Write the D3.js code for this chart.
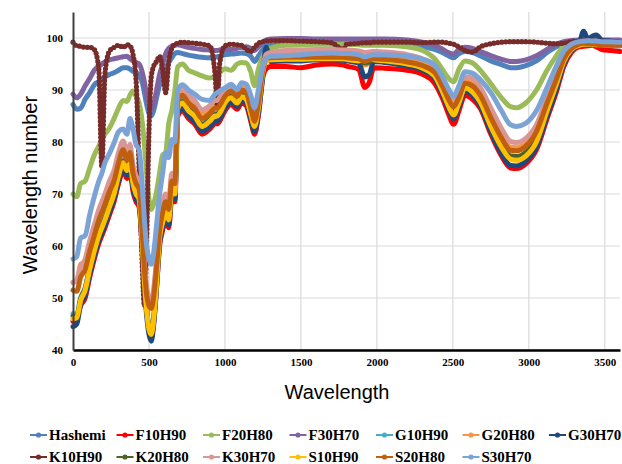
<!DOCTYPE html>
<html>
<head>
<meta charset="utf-8">
<script src="https://cdn.jsdelivr.net/npm/d3@7"></script>
<style>
  body { margin: 0; background: #ffffff; }
  svg { display: block; }
</style>
</head>
<body>
<div id="chart"></div>
<script>

// ---DATA---//

var wavelength = [0, 25, 50, 80, 110, 140, 170, 190, 210, 240, 270, 300, 330, 355, 375, 395, 415, 435, 455, 470,
	485, 500, 515, 530, 550, 570, 590, 610, 630, 650, 670, 690, 720, 760, 800, 850, 900, 935, 950, 965,
	1000, 1040, 1080, 1110, 1140, 1170, 1195, 1220, 1250, 1270, 1300, 1400, 1500, 1600, 1700, 1780, 1800, 1880, 1920, 1950,
	1980, 2050, 2200, 2300, 2380, 2430, 2470, 2505, 2540, 2580, 2630, 2680, 2750, 2820, 2880, 2920, 2980, 3050, 3120, 3180,
	3230, 3280, 3330, 3360, 3390, 3420, 3445, 3480, 3540, 3600];

var seriesNames = ["Hashemi", "F10H90", "F20H80", "F30H70", "G10H90", "G20H80", "G30H70",
	"K10H90", "K20H80", "K30H70", "S10H90", "S20H80", "S30H70"];

var seriesColors = ["#4F81BD", "#FF0000", "#9BBB59", "#8064A2", "#4BACC6", "#F79646", "#1F497D",
	"#772C2A", "#4F6228", "#D99694", "#FFC000", "#C0600F", "#7BA3D6"];

var hashemi = [87.2, 86.3, 86.5, 88.2, 89.5, 91, 91.6, 92, 92.5, 93, 93.3, 93.8, 94.3, 94.3, 94, 93.6, 93.3, 93, 91.5, 89.5,
	87.2, 85.5, 85, 86, 88.5, 91, 92.5, 94, 95.3, 96.2, 97, 97.2, 97, 96.7, 96.5, 96.3, 96.2, 96.3, 96.4, 96.5,
	96.8, 96.9, 97, 97.1, 97, 96.5, 95.5, 96.5, 97.8, 98.5, 98.6, 98.8, 98.9, 98.9, 98.9, 98.9, 98.9, 98.9, 98.8, 98.8,
	98.8, 98.8, 98.7, 98.3, 97.8, 97.2, 96.6, 96.2, 97, 97.4, 97.2, 96.6, 95.6, 94.9, 94.3, 94.3, 94.7, 95.6, 97.2, 98.3,
	99, 99.3, 99.4, 99.5, 99.5, 99.5, 99.5, 99.5, 99.5, 99.5];

var f10h90 = [45.5, 46, 48.5, 50, 54, 57.5, 60.5, 62, 63.5, 66, 68.5, 72, 74.5, 73, 74.5, 70.5, 68.5, 67.5, 60, 53,
	47.5, 44, 42.5, 45, 52, 60, 63, 65, 63.5, 69, 68.5, 85, 86, 84.5, 83.5, 81.5, 82.5, 83.5, 83.5, 84,
	86, 87.2, 86.3, 87.5, 87, 84, 81.5, 85, 92.5, 94, 94.5, 94.5, 94.3, 94.8, 95, 94.8, 94.6, 94, 90.5, 91.5,
	94.3, 94.2, 93.8, 93, 91.3, 88.5, 85.5, 83.4, 86, 89, 88.2, 86.5, 81.5, 77.3, 75, 74.9, 75.8, 78.5, 84.5, 89.5,
	94.5, 97.2, 98.3, 98.4, 98.5, 98.6, 98.3, 97.8, 97.6, 97.4];

var f20h80 = [70, 69.5, 72, 72.5, 75, 77.5, 79.2, 80.5, 81.5, 82.7, 84.5, 86.5, 88, 87.8, 89, 89.8, 88.8, 87.5, 84, 79.5,
	74, 69, 67, 68, 70.5, 74, 77.5, 78, 83.5, 86, 89.8, 94.5, 95, 93.8, 93.3, 92.7, 92.3, 92.6, 92.8, 93.3,
	94.1, 93.8, 95, 95.3, 95.2, 93.5, 90.8, 94, 96.5, 97.5, 98, 98.6, 98.7, 98.8, 98.8, 98.8, 98.8, 98.7, 98.6, 98.6,
	98.6, 98.6, 98.3, 97.6, 96, 94, 92.3, 91.6, 94, 95.6, 95.2, 93.8, 91.2, 88.5, 86.8, 86.6, 87.5, 90, 93.8, 96.5,
	98.5, 99.2, 99.5, 99.6, 99.6, 99.6, 99.6, 99.5, 99.5, 99.5];

var f30h70 = [89.2, 88.5, 89.2, 90.8, 92.2, 93.8, 94.5, 95, 95.4, 95.8, 96, 96.2, 96.4, 96.5, 96, 95.6, 95.3, 95, 93.5, 91.5,
	89, 87, 86.3, 87.2, 90, 93, 95, 97, 98, 98.4, 98.6, 98.7, 98.5, 98.2, 98, 97.8, 97.7, 97.6, 97.6, 97.7,
	97.8, 97.8, 98, 98.2, 98.3, 98, 97.6, 98.3, 99.2, 99.6, 99.8, 99.9, 99.9, 99.8, 99.8, 99.8, 99.8, 99.8, 99.8, 99.8,
	99.8, 99.8, 99.6, 99.2, 98.6, 97.9, 97.2, 96.9, 97.8, 98.2, 98, 97.4, 96.6, 95.9, 95.5, 95.5, 95.8, 96.6, 97.8, 98.8,
	99.3, 99.5, 99.6, 99.6, 99.6, 99.6, 99.6, 99.6, 99.6, 99.6];

var g10h90 = [47, 46.8, 50, 52, 56, 59.5, 62.5, 64, 65.5, 68, 70.5, 74, 76.5, 75, 76.5, 72.5, 70.5, 69.5, 61.5, 53.5,
	48, 44.5, 43.5, 46, 53.5, 62, 65, 67, 65.5, 71, 70.5, 87, 88, 86.5, 85.5, 83.5, 84.5, 85.5, 85.5, 86,
	88, 89, 88, 89.2, 88.7, 85.8, 83.4, 87, 93.7, 95.7, 96, 96.1, 96.1, 96.2, 96.2, 96.1, 96, 95.8, 95, 95.3,
	95.9, 95.8, 95.2, 94.4, 93, 90.2, 87.5, 85.8, 88, 90.8, 90.2, 88.3, 83.7, 79.6, 77.2, 77, 77.8, 80.6, 86.5, 91.3,
	95.8, 97.9, 98.7, 98.8, 98.9, 98.9, 98.8, 98.7, 98.6, 98.5];

var g20h80 = [53, 53.2, 56.5, 56.8, 60.5, 63.5, 66.3, 67.8, 69.2, 71.6, 73.6, 77, 79.3, 77.2, 78.7, 74.8, 72.8, 71.8, 63.8, 56.3,
	51.3, 49.3, 48.8, 50.8, 56.8, 63.8, 67.3, 69.3, 67.8, 73.3, 72.8, 88.6, 89.6, 88.2, 87.2, 85.3, 86.2, 87.2, 87.2, 87.7,
	89.3, 90.1, 89.1, 90.3, 89.8, 86.8, 84.3, 88, 94.2, 96.3, 96.6, 96.8, 96.9, 96.9, 96.9, 96.9, 96.8, 96.5, 94.8, 95.2,
	96.5, 96.4, 95.9, 95.2, 93.9, 91.4, 88.9, 87.4, 89.2, 91.8, 91.4, 89.6, 85.4, 81.5, 79, 78.9, 79.8, 82.5, 88, 92.5,
	96.2, 98.1, 98.9, 99, 99, 99, 98.9, 98.8, 98.7, 98.6];

var g30h70 = [44.5, 45, 48.8, 50.5, 54.5, 58, 61, 62.5, 64, 66.5, 69, 72.5, 75.2, 73.5, 75, 71, 69, 68, 60, 52,
	46.5, 43, 41.7, 44.5, 52, 60.5, 63.5, 65.5, 64, 69.5, 69, 85.5, 86.5, 85, 84, 82, 83, 84, 84, 84.5,
	86.5, 87.7, 86.8, 88, 87.5, 84.5, 82, 85.5, 93, 98.2, 95.5, 95.6, 95.6, 95.8, 95.8, 95.7, 95.6, 95.2, 92.5, 93,
	95.5, 95.3, 94.6, 93.8, 92.2, 89.2, 86.4, 84.5, 86.8, 89.8, 89, 87, 82, 77.8, 75.5, 75.4, 76.3, 79, 85, 90,
	95, 97.6, 98.8, 101.3, 99.8, 100.4, 100.6, 99.6, 99.4, 99.2];

var k10h90 = [99.2, 98.5, 98.4, 98.2, 98.2, 97.8, 94, 75.2, 93, 97.5, 98.2, 98.6, 98.2, 98.7, 98.5, 96.8, 92, 75, 57, 48.5,
	62, 82, 92.5, 94.5, 95.5, 96.5, 94, 89.5, 95.5, 98, 98.8, 99, 99.2, 99.1, 99, 98.8, 98.5, 93, 87, 95,
	98.5, 98.8, 98.7, 98.6, 97.8, 97.4, 98.2, 99, 99.3, 99.4, 99.5, 99.5, 99.4, 99.3, 99.1, 97.8, 98.8, 99, 99.1, 99.1,
	99.2, 99.2, 99.2, 99.1, 99.2, 99.2, 99, 98.8, 98.3, 97.6, 97.3, 98.3, 98.9, 99.2, 99.3, 99.3, 99.3, 99.2, 99, 98.9,
	99, 99.3, 99.4, 99.5, 99.5, 99.5, 99.4, 99.4, 99.3, 99.3];

var k20h80 = [46.5, 46.5, 49.8, 51.8, 55.8, 59.3, 62.3, 63.8, 65.3, 67.8, 70.3, 73.8, 76.3, 74.8, 76.3, 72.3, 70.3, 69.3, 61.3, 53.3,
	47.8, 44.3, 43.3, 45.8, 53.3, 61.8, 64.8, 66.8, 65.3, 70.8, 70.3, 86.8, 87.8, 86.3, 85.3, 83.3, 84.3, 85.3, 85.3, 85.8,
	87.8, 88.8, 87.8, 89, 88.5, 85.6, 83.2, 86.8, 93.6, 95.6, 95.9, 96, 96, 96.1, 96.1, 96, 96, 95.7, 95.2, 95.4,
	95.9, 95.7, 95.1, 94.3, 92.9, 90, 87.3, 85.5, 87.8, 90.6, 90, 88, 83.4, 79.4, 77.3, 77.2, 78, 80.8, 86.5, 91.3,
	95.7, 97.9, 98.7, 98.8, 98.8, 98.8, 98.7, 98.6, 98.5, 98.5];

var k30h70 = [53, 53.5, 56, 57.5, 61, 64, 67, 68.5, 70, 72.5, 74.5, 78, 80.2, 78, 79.5, 75.5, 73.5, 72.5, 64.5, 57,
	52, 50, 49.5, 51.5, 57.5, 64.5, 68, 70, 68.5, 74, 73.5, 89.2, 90.3, 89, 88, 86.2, 87, 88, 88, 88.5,
	89.8, 90.5, 89.5, 90.6, 90.2, 87, 84.5, 88.5, 94.5, 96.8, 97.2, 97.6, 97.7, 97.8, 97.8, 97.7, 97.7, 97.5, 97.2, 97.3,
	97.4, 97.3, 96.8, 96, 94.7, 92.2, 89.8, 88.3, 90, 92.5, 92.2, 90.5, 86.5, 82.6, 80.1, 79.9, 80.7, 83.3, 88.5, 93,
	96.5, 98.3, 99, 99.2, 99.2, 99.1, 99, 98.9, 98.8, 98.7];

var s10h90 = [46, 46.2, 49.5, 51.5, 55.5, 59, 62, 63.5, 65, 67.5, 70, 73.5, 76, 74.5, 76, 72, 70, 69, 61, 53,
	47.5, 44, 43, 45.5, 53, 61.5, 64.5, 66.5, 65, 70.5, 70, 86.5, 87.5, 86, 85, 83, 84, 85, 85, 85.5,
	87.5, 88.5, 87.5, 88.7, 88.2, 85.3, 83, 86.5, 93.5, 95.5, 95.8, 95.9, 95.9, 96, 96, 96, 95.9, 95.6, 96.5, 96,
	95.8, 95.6, 95, 94.2, 92.7, 89.8, 87, 85.2, 87.5, 90.4, 89.6, 87.7, 83, 79, 76.7, 76.5, 77.3, 80, 86, 91,
	95.5, 97.8, 98.6, 98.8, 98.8, 98.8, 98.7, 98.7, 98.6, 98.6];

var s20h80 = [51.5, 51.3, 54, 55.5, 59, 62, 65, 66.5, 68, 70.5, 72.5, 76, 78.5, 76.5, 78, 74, 72, 71, 63, 55.5,
	50.5, 48.5, 48, 50, 56, 63, 66.5, 68.5, 67, 72.5, 72, 88, 89, 87.5, 86.5, 84.5, 85.5, 86.5, 86.5, 87,
	88.8, 89.8, 88.8, 90, 89.5, 86.5, 84, 87.5, 94, 96, 96.2, 96.3, 96.3, 96.3, 96.3, 96.3, 96.2, 96, 95.5, 95.8,
	96, 95.9, 95.4, 94.7, 93.4, 90.8, 88.3, 86.8, 88.6, 91.3, 90.8, 89, 84.7, 80.8, 78.4, 78.3, 79.2, 82, 87.5, 92,
	96, 98, 98.8, 99, 98.9, 98.9, 98.8, 98.7, 98.6, 98.6];

var s30h70 = [57.5, 58, 61.5, 62, 66, 69.5, 72.5, 74, 76, 77.8, 79.8, 82, 82.5, 81.5, 84.5, 82.5, 79.5, 78.5, 72, 65,
	60, 57.5, 56.5, 58.5, 64, 70, 74, 78, 77, 80.5, 80, 90, 91, 90, 89.2, 88.2, 88, 89.2, 89.5, 89.8,
	90.4, 91.1, 90.1, 91.4, 91.1, 89, 86.6, 90, 94.5, 96, 96.5, 96.6, 96.8, 97, 97.1, 97, 97, 96.8, 96.4, 96.6,
	96.8, 96.8, 96.5, 95.9, 94.8, 92.6, 90.3, 88.8, 90.8, 93.5, 93.2, 92, 89.5, 86, 83.3, 83, 83.6, 86, 90.5, 94.5,
	97.5, 98.8, 99.3, 99.4, 99.5, 99.4, 99.4, 99.3, 99.3, 99.2];

var seriesValues = [hashemi, f10h90, f20h80, f30h70, g10h90, g20h80, g30h70,
	k10h90, k20h80, k30h70, s10h90, s20h80, s30h70];

var xTicks = [0, 500, 1000, 1500, 2000, 2500, 3000, 3500];
var yTicks = [40, 50, 60, 70, 80, 90, 100];

// ---LAYOUT---//

var width = 622;
var height = 464;

var plot = {
	left : 73,
	right : 620,
	top : 12,
	bottom : 350
};

var svg = d3.select("#chart").append("svg")
		.attr("width", width)
		.attr("height", height);

var xScale = d3.scaleLinear().domain([ 0, 3600 ]).range([ plot.left, plot.right ]);
var yScale = d3.scaleLinear().domain([ 40, 105 ]).range([ plot.bottom, plot.top ]);

// ---GRID---//

var grid = svg.append("g").attr("class", "grid");

grid.selectAll("line.h").data(yTicks).enter().append("line")
		.attr("class", "h")
		.attr("x1", plot.left)
		.attr("x2", plot.right)
		.attr("y1", function(d) { return yScale(d); })
		.attr("y2", function(d) { return yScale(d); })
		.attr("stroke", "#D9D9D9")
		.attr("stroke-width", 1.2);

grid.selectAll("line.v").data(xTicks.slice(1)).enter().append("line")
		.attr("class", "v")
		.attr("x1", function(d) { return xScale(d); })
		.attr("x2", function(d) { return xScale(d); })
		.attr("y1", plot.top)
		.attr("y2", plot.bottom)
		.attr("stroke", "#D9D9D9")
		.attr("stroke-width", 1.2);

// ---SERIES---//

var line = d3.line()
		.x(function(d) { return xScale(d[0]); })
		.y(function(d) { return yScale(d[1]); })
		.curve(d3.curveMonotoneX);

var seriesLayer = svg.append("g").attr("class", "series");

for (var i = 0; i < seriesNames.length; i++) {

	var points = wavelength.map(function(w, j) {
		return [ w, seriesValues[i][j] ];
	});

	if (seriesNames[i] == "K10H90") {
		// thin core + round dots, like the dense excel markers
		seriesLayer.append("path")
				.attr("d", line(points))
				.attr("fill", "none")
				.attr("stroke", seriesColors[i])
				.attr("stroke-width", 3)
				.attr("stroke-linejoin", "round");
		seriesLayer.append("path")
				.attr("d", line(points))
				.attr("fill", "none")
				.attr("stroke", seriesColors[i])
				.attr("stroke-width", 5.2)
				.attr("stroke-linecap", "round")
				.attr("stroke-dasharray", "0 4");
	} else {
		seriesLayer.append("path")
				.attr("d", line(points))
				.attr("fill", "none")
				.attr("stroke", seriesColors[i])
				.attr("stroke-width", 5)
				.attr("stroke-linejoin", "round")
				.attr("stroke-linecap", "round");
	}

}// END: i loop

// ---AXES---//

var xAxis = svg.append("g")
		.attr("transform", "translate(0," + plot.bottom + ")")
		.call(d3.axisBottom(xScale).tickValues(xTicks).tickFormat(d3.format("d")).tickSize(0).tickPadding(8));

var yAxis = svg.append("g")
		.attr("transform", "translate(" + plot.left + ",0)")
		.call(d3.axisLeft(yScale).tickValues(yTicks).tickFormat(d3.format("d")).tickSize(0).tickPadding(10));

xAxis.select(".domain").attr("stroke", "#000000").attr("stroke-width", 2.5);
yAxis.select(".domain").attr("stroke", "#404040").attr("stroke-width", 2);

svg.selectAll(".tick text")
		.attr("font-family", "'Liberation Serif', 'Times New Roman', serif")
		.attr("font-weight", "bold")
		.attr("font-size", "11px")
		.attr("fill", "#000000");

// axis titles
svg.append("text")
		.attr("x", 337)
		.attr("y", 392)
		.attr("text-anchor", "middle")
		.attr("dominant-baseline", "central")
		.attr("font-family", "'Liberation Sans', Arial, sans-serif")
		.attr("font-size", "20px")
		.attr("fill", "#000000")
		.text("Wavelength");

svg.append("text")
		.attr("transform", "translate(30,185) rotate(-90)")
		.attr("text-anchor", "middle")
		.attr("dominant-baseline", "central")
		.attr("font-family", "'Liberation Sans', Arial, sans-serif")
		.attr("font-size", "20px")
		.attr("fill", "#000000")
		.text("Wavelength number");

// ---LEGEND---//

var legend = svg.append("g").attr("class", "legend");
var legendStartX = 30;
var legendStep = 86.5;
var legendRows = [ 435, 457 ];

for (var k = 0; k < seriesNames.length; k++) {

	var row = k < 7 ? 0 : 1;
	var col = k < 7 ? k : k - 7;
	var lx = legendStartX + col * legendStep;
	var ly = legendRows[row];

	var item = legend.append("g").attr("transform", "translate(" + lx + "," + ly + ")");

	item.append("line")
			.attr("x1", 0)
			.attr("x2", 17)
			.attr("y1", 0)
			.attr("y2", 0)
			.attr("stroke", seriesColors[k])
			.attr("stroke-width", 2);

	item.append("circle")
			.attr("cx", 8.5)
			.attr("cy", 0)
			.attr("r", 2.6)
			.attr("fill", seriesColors[k]);

	item.append("text")
			.attr("x", 19)
			.attr("y", 0)
			.attr("dominant-baseline", "central")
			.attr("font-family", "'Liberation Serif', 'Times New Roman', serif")
			.attr("font-weight", "bold")
			.attr("font-size", "15px")
			.attr("fill", "#000000")
			.text(seriesNames[k]);

}// END: k loop

</script>
</body>
</html>
